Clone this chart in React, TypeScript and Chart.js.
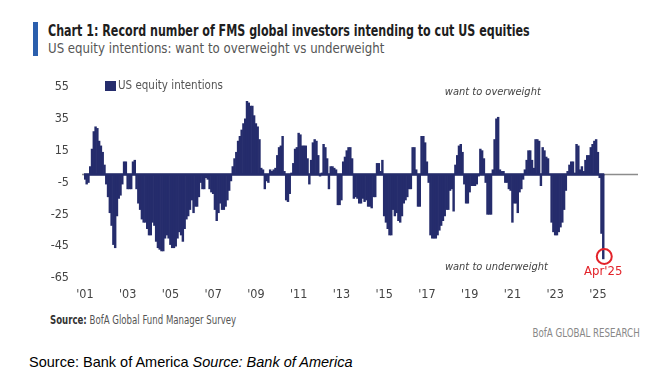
import React, { useEffect, useRef } from "react";
import { Chart, registerables } from "chart.js";

Chart.register(...registerables);

// Monthly US equity intentions (net % want to overweight vs underweight), Jan 2001 - Apr 2025
const y2001 = [-3, -6, -5, 5, 16, 27, 30, 29, 21, 18, 14, 6];
const y2002 = [-6, -14, -24, -32, -44, -46, -26, -15, -13, -6, 8, 8];
const y2003 = [-9, -9, -9, 8, 9, -9, -18, -22, -28, -30, -30, -34];
const y2004 = [-38, -38, -30, -32, -42, -46, -47, -48, -48, -40, -38, -40];
const y2005 = [-44, -46, -46, -45, -40, -36, -38, -42, -34, -28, -26, -22];
const y2006 = [-16, -24, -20, -20, -14, -5, -9, -9, -2, -3, -9, -11];
const y2007 = [-12, -22, -29, -24, -18, -22, -22, -20, -16, -10, -4, 5];
const y2008 = [10, 14, 21, 24, 28, 32, 35, 46, 45, 43, 43, 37];
const y2009 = [32, 30, 22, 4, 3, -9, -4, -5, 3, 2, 3, 4];
const y2010 = [12, 17, 18, 24, 2, -16, -17, -12, 1, 7, 16, 17];
const y2011 = [26, 25, 18, 18, 18, 10, -6, 9, 20, 22, 21, 12];
const y2012 = [-1, 1, 19, 17, 10, -9, 5, 5, 4, 3, -19, -19];
const y2013 = [-16, 8, 11, 15, 17, 17, 10, -15, -14, -15, -18, -18];
const y2014 = [-15, -17, -16, -20, -20, -21, -14, -14, 7, 7, 2, 9];
const y2015 = [-26, -30, -34, -38, -38, -22, -26, -24, -29, -30, -26, -18];
const y2016 = [-16, -14, -9, -9, 17, 17, 3, -20, -20, 24, 24, 20];
const y2017 = [8, -5, -38, -40, -40, -40, -38, -35, -32, -29, -26, -22];
const y2018 = [-22, -10, -9, -23, 6, 12, 18, 19, 14, -6, -18, -18];
const y2019 = [-11, -7, -7, -7, -6, -1, 16, 15, 10, -5, -25, -25];
const y2020 = [-25, 3, 22, 35, 36, 3, 2, 2, -5, -5, -9, -10];
const y2021 = [-30, -18, -18, -24, -11, -9, -3, 3, 9, 15, 15, 9];
const y2022 = [4, 22, 22, 21, -7, 17, 15, 11, 10, 0, -30, -36];
const y2023 = [-38, -38, -36, -33, -30, -22, -10, 2, 6, 8, 8, 1];
const y2024 = [19, 18, 3, 5, 2, 9, 12, 12, 17, 19, 21, 22];
const y2025 = [14, -2, -37, -53];

const intentions: (number | null)[] = [
  ...y2001, ...y2002, ...y2003, ...y2004, ...y2005, ...y2006, ...y2007, ...y2008,
  ...y2009, ...y2010, ...y2011, ...y2012, ...y2013, ...y2014, ...y2015, ...y2016,
  ...y2017, ...y2018, ...y2019, ...y2020, ...y2021, ...y2022, ...y2023, ...y2024, ...y2025,
];

const firstYear = 2001;
const trailingEmptyMonths = 19; // axis continues past last survey
const monthLabels: string[] = [];
for (let i = 0; i < intentions.length + trailingEmptyMonths; i++) {
  const yr = firstYear + Math.floor(i / 12);
  const mo = (i % 12) + 1;
  monthLabels.push(`${yr}-${mo < 10 ? "0" + mo : mo}`);
}
const paddedData = [...intentions, ...new Array(trailingEmptyMonths).fill(null)];

const xTickYears = ["2001", "2003", "2005", "2007", "2009", "2011", "2013", "2015", "2017", "2019", "2021", "2023", "2025"];
const xTickText = ["'01", "'03", "'05", "'07", "'09", "'11", "'13", "'15", "'17", "'19", "'21", "'23", "'25"];
const yTicks = [55, 35, 15, -5, -25, -45, -65];

const seriesName = "US equity intentions";
const lastLabel = "Apr'25";

const NARROW = "'DejaVu Sans Condensed', 'DejaVu Sans', sans-serif";
const NAVY = "#252c6c";

export default function App() {
  const ref = useRef<HTMLCanvasElement | null>(null);

  useEffect(() => {
    if (!ref.current) return;
    const annot = {
      id: "annot",
      beforeDatasetsDraw(chart: any) {
        const { ctx, chartArea, scales } = chart;
        const y0 = scales.y.getPixelForValue(0);
        ctx.save();
        ctx.strokeStyle = "#8c8c8c";
        ctx.lineWidth = 1.5;
        ctx.beginPath();
        ctx.moveTo(chartArea.left - 2, y0);
        ctx.lineTo(chartArea.right, y0);
        ctx.stroke();
        ctx.restore();
      },
      afterDatasetsDraw(chart: any) {
        const { ctx, scales } = chart;
        const x = scales.x;
        const y = scales.y;
        const y0 = y.getPixelForValue(0);
        const lastIdx = intentions.length - 1;
        ctx.save();
        ctx.strokeStyle = NAVY;
        ctx.lineWidth = 2.5;
        ctx.beginPath();
        ctx.moveTo(x.getPixelForValue(0) - 1, y0);
        ctx.lineTo(x.getPixelForValue(lastIdx) + 1, y0);
        ctx.stroke();

        // legend
        ctx.fillStyle = NAVY;
        ctx.fillRect(105, 21, 11, 10);
        ctx.fillStyle = "#555";
        ctx.font = `11.5px ${NARROW}`;
        ctx.textAlign = "left";
        ctx.textBaseline = "middle";
        ctx.fillText(seriesName, 118, 26);

        // region labels
        ctx.font = `italic 11px ${NARROW}`;
        ctx.textAlign = "center";
        ctx.fillStyle = "#444";
        ctx.fillText("want to overweight", x.getPixelForValue(229), y.getPixelForValue(51.5));
        ctx.fillText("want to underweight", x.getPixelForValue(231), y.getPixelForValue(-58));

        // highlight latest value
        const lx = x.getPixelForValue(lastIdx);
        const lv = intentions[lastIdx] as number;
        ctx.strokeStyle = "#e3232a";
        ctx.lineWidth = 2;
        ctx.beginPath();
        ctx.arc(lx + 1, y.getPixelForValue(lv + 1.5), 7.5, 0, Math.PI * 2);
        ctx.stroke();
        ctx.fillStyle = "#e3232a";
        ctx.font = `13px ${NARROW}`;
        ctx.fillText(lastLabel, lx, y.getPixelForValue(-61));
        ctx.restore();
      },
    };

    const chart = new Chart(ref.current, {
      type: "bar",
      data: {
        labels: monthLabels,
        datasets: [
          {
            label: seriesName,
            data: paddedData,
            backgroundColor: NAVY,
            borderWidth: 0,
            barPercentage: 1,
            categoryPercentage: 1,
          },
        ],
      },
      options: {
        animation: false,
        responsive: false,
        maintainAspectRatio: false,
        layout: { padding: { top: 27, right: 28, left: 0, bottom: 0 } },
        plugins: { legend: { display: false }, tooltip: { enabled: false } },
        scales: {
          x: {
            grid: { display: false, drawTicks: false },
            border: { display: false },
            afterFit: (s: any) => {
              s.height = 32;
            },
            ticks: {
              autoSkip: false,
              maxRotation: 0,
              minRotation: 0,
              padding: 9,
              color: "#444",
              font: { family: NARROW, size: 12.5 },
              callback: (_v: any, i: number) => {
                const lab = monthLabels[i];
                if (!lab || !lab.endsWith("-01")) return "";
                const k = xTickYears.indexOf(lab.slice(0, 4));
                return k >= 0 ? xTickText[k] : "";
              },
            },
          },
          y: {
            min: -65,
            max: 55,
            grid: { display: false, drawTicks: false },
            border: { display: false },
            afterFit: (s: any) => {
              s.width = 84;
            },
            afterBuildTicks: (s: any) => {
              s.ticks = yTicks.map((v) => ({ value: v }));
            },
            ticks: {
              padding: 15,
              color: "#444",
              font: { family: NARROW, size: 12.5 },
            },
          },
        },
      },
      plugins: [annot],
    });
    return () => chart.destroy();
  }, []);

  return (
    <div style={{ position: "fixed", left: 0, top: 0, width: 666, height: 391, background: "#fff", overflow: "hidden" }}>
      <div style={{ position: "absolute", left: 33, top: 22, width: 5, height: 34, background: "#2b5fad" }} />
      <div
        style={{
          position: "absolute",
          left: 48,
          top: 22,
          fontFamily: NARROW,
          fontWeight: "bold",
          fontSize: 15,
          lineHeight: "18px",
          color: "#1e1e1e",
          whiteSpace: "nowrap",
          transform: "scaleX(0.824)",
          transformOrigin: "left center",
        }}
      >
        Chart 1: Record number of FMS global investors intending to cut US equities
      </div>
      <div
        style={{
          position: "absolute",
          left: 48,
          top: 40,
          fontFamily: NARROW,
          fontSize: 14,
          lineHeight: "17px",
          color: "#555",
          whiteSpace: "nowrap",
          transform: "scaleX(0.936)",
          transformOrigin: "left center",
        }}
      >
        US equity intentions: want to overweight vs underweight
      </div>
      <canvas ref={ref} width={666} height={250} style={{ position: "absolute", left: 0, top: 60, width: 666, height: 250 }} />
      <div
        style={{
          position: "absolute",
          left: 50,
          top: 312,
          fontFamily: NARROW,
          fontSize: 11.5,
          lineHeight: "16px",
          color: "#555",
          whiteSpace: "nowrap",
          transform: "scaleX(0.83)",
          transformOrigin: "left center",
        }}
      >
        <span style={{ fontWeight: "bold", color: "#333" }}>Source:</span> BofA Global Fund Manager Survey
      </div>
      <div
        style={{
          position: "absolute",
          right: 26,
          top: 325,
          fontFamily: NARROW,
          fontSize: 11.5,
          lineHeight: "16px",
          color: "#888",
          whiteSpace: "nowrap",
          transform: "scaleX(0.84)",
          transformOrigin: "right center",
        }}
      >
        BofA GLOBAL RESEARCH
      </div>
      <div
        style={{
          position: "absolute",
          left: 29,
          top: 354,
          fontFamily: "'Liberation Sans', Arial, sans-serif",
          fontSize: 14.5,
          lineHeight: "17px",
          color: "#000",
          whiteSpace: "nowrap",
        }}
      >
        Source: Bank of America <i>Source: Bank of America</i>
      </div>
    </div>
  );
}
